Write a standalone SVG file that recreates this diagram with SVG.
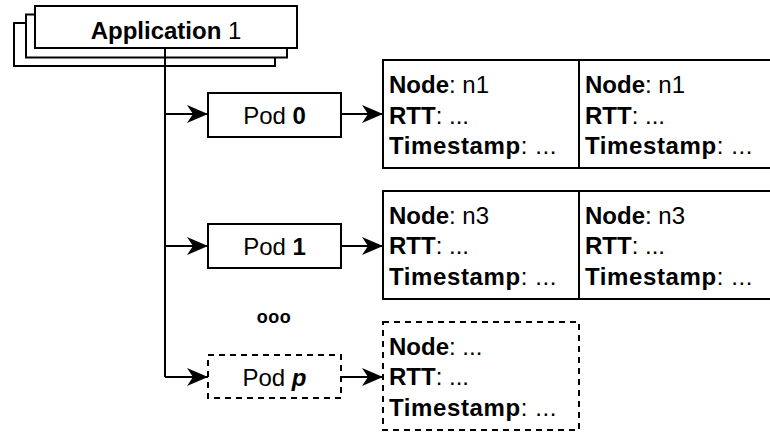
<svg xmlns="http://www.w3.org/2000/svg" width="770" height="432" viewBox="0 0 770 432">
  <style>
    text { font-family: "Liberation Sans", Arial, sans-serif; font-size: 24px; fill: #000; }
    .b { font-weight: bold; }
    .ts { letter-spacing: 0.6px; }
    .box { fill: #fff; stroke: #000; stroke-width: 2; }
    .dash { stroke-dasharray: 6 5; }
    .edge { fill: none; stroke: #000; stroke-width: 2; }
  </style>
  <defs>
    <marker id="arrow" markerUnits="userSpaceOnUse" markerWidth="22" markerHeight="20" viewBox="0 0 22 20" refX="21" refY="10" orient="auto">
      <path d="M0,1 L21,10 L0,19 L6,10 Z" fill="#000"/>
    </marker>
  </defs>

  <!-- stacked application cards -->
  <g id="application">
    <rect class="box" x="14" y="23" width="261" height="43"/>
    <rect class="box" x="26" y="14.5" width="261" height="43"/>
    <rect class="box" x="35" y="6" width="262" height="42"/>
    <text x="166" y="39" text-anchor="middle"><tspan class="b">Application</tspan> 1</text>
  </g>

  <!-- connectors -->
  <g id="connectors">
    <path class="edge" d="M165,48 V377"/>
    <path class="edge" d="M165,114 H208" marker-end="url(#arrow)"/>
    <path class="edge" d="M165,246 H208" marker-end="url(#arrow)"/>
    <path class="edge" d="M165,377 H208" marker-end="url(#arrow)"/>
    <path class="edge" d="M341,114 H383" marker-end="url(#arrow)"/>
    <path class="edge" d="M341,246 H383" marker-end="url(#arrow)"/>
    <path class="edge" d="M341,377 H383" marker-end="url(#arrow)"/>
  </g>

  <!-- pods -->
  <g id="pod0">
    <rect class="box" x="208" y="93" width="133" height="44"/>
    <text x="274.5" y="124" text-anchor="middle">Pod <tspan class="b">0</tspan></text>
  </g>
  <g id="pod1">
    <rect class="box" x="208" y="224" width="133" height="44"/>
    <text x="274.5" y="255" text-anchor="middle">Pod <tspan class="b">1</tspan></text>
  </g>
  <g id="podp">
    <rect class="box dash" x="208" y="355" width="133" height="43"/>
    <text x="274.5" y="386" text-anchor="middle">Pod <tspan class="b" font-style="italic">p</tspan></text>
  </g>

  <g id="ellipsis">
    <text x="274" y="323" text-anchor="middle" class="b" style="font-size:18px;letter-spacing:0.5px">ooo</text>
  </g>

  <!-- records of pod 0 -->
  <g id="records0">
    <rect class="box" x="383" y="60" width="196" height="108"/>
    <rect class="box" x="579" y="60" width="200" height="108"/>
    <text x="389" y="93"><tspan class="b">Node</tspan>: n1</text>
    <text x="389" y="123.5"><tspan class="b">RTT</tspan>: ...</text>
    <text x="389" y="154" class="ts"><tspan class="b">Timestamp</tspan>: ...</text>
    <text x="585" y="93"><tspan class="b">Node</tspan>: n1</text>
    <text x="585" y="123.5"><tspan class="b">RTT</tspan>: ...</text>
    <text x="585" y="154" class="ts"><tspan class="b">Timestamp</tspan>: ...</text>
  </g>

  <!-- records of pod 1 -->
  <g id="records1">
    <rect class="box" x="383" y="191" width="196" height="108"/>
    <rect class="box" x="579" y="191" width="200" height="108"/>
    <text x="389" y="223.5"><tspan class="b">Node</tspan>: n3</text>
    <text x="389" y="254"><tspan class="b">RTT</tspan>: ...</text>
    <text x="389" y="284.5" class="ts"><tspan class="b">Timestamp</tspan>: ...</text>
    <text x="585" y="223.5"><tspan class="b">Node</tspan>: n3</text>
    <text x="585" y="254"><tspan class="b">RTT</tspan>: ...</text>
    <text x="585" y="284.5" class="ts"><tspan class="b">Timestamp</tspan>: ...</text>
  </g>

  <!-- records of pod p -->
  <g id="recordsp">
    <rect class="box dash" x="383" y="322" width="196" height="108"/>
    <text x="389" y="354.5"><tspan class="b">Node</tspan>: ...</text>
    <text x="389" y="385"><tspan class="b">RTT</tspan>: ...</text>
    <text x="389" y="415.5" class="ts"><tspan class="b">Timestamp</tspan>: ...</text>
  </g>
</svg>
